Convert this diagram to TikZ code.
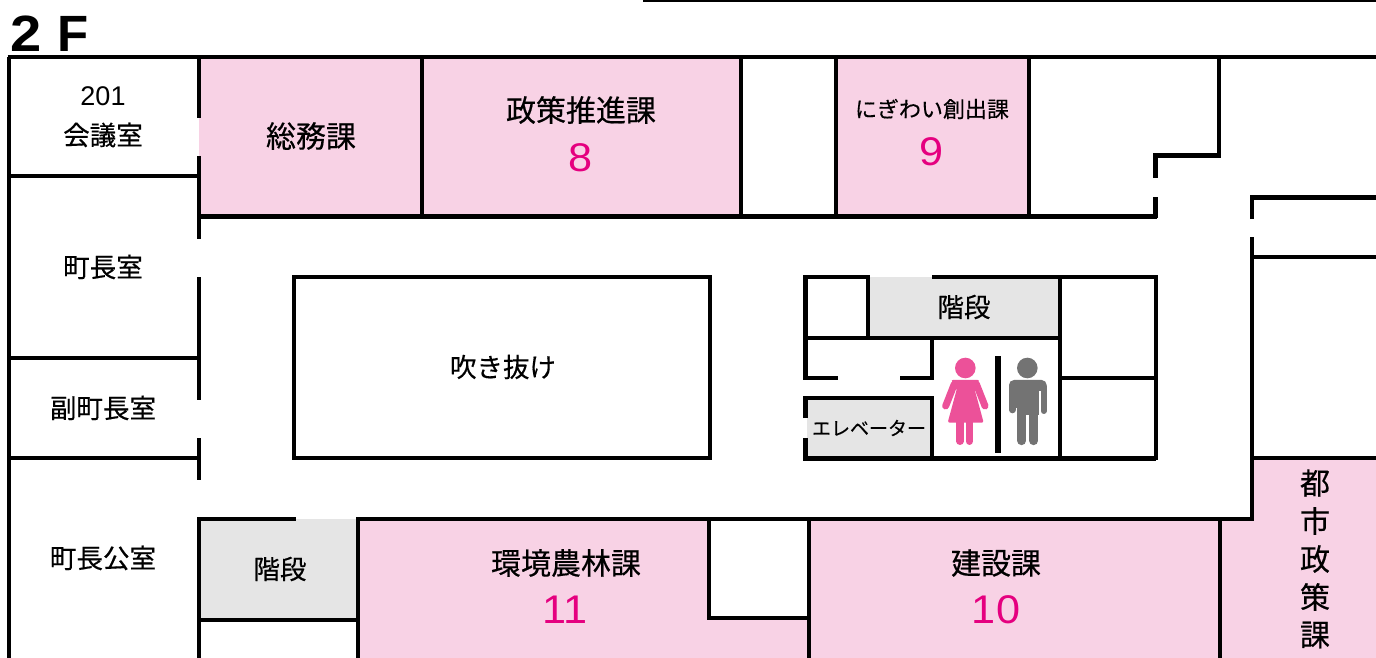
\documentclass[tikz,border=0pt]{standalone}
\usepackage{fontspec}
\setmainfont{Noto Sans CJK JP}[FakeBold=0.4]
\newfontfamily\latinfont{Liberation Sans}
\tikzset{
  wall/.style={line width=4.3pt,draw=black,line cap=butt,line join=miter},
  thinwall/.style={line width=3.5pt,draw=black,line cap=butt,line join=miter},
  label/.style={inner sep=0pt,text=black,align=center},
  num/.style={inner sep=0pt,text=numpink,xscale=1.08,font=\latinfont\fontsize{40}{40}\selectfont},
  t26/.style={label,font=\fontsize{26.5}{30}\selectfont},
  t29/.style={label,font=\fontsize{30}{34}\selectfont},
  ttl/.style={inner sep=0pt,anchor=base west,font=\latinfont\fontsize{51}{51}\selectfont\bfseries},
}
\definecolor{roompink}{HTML}{F8D2E5}
\definecolor{stairgray}{HTML}{E5E5E5}
\definecolor{numpink}{HTML}{E5007F}
\definecolor{womanpink}{HTML}{EC5199}
\definecolor{mangray}{HTML}{737373}
\begin{document}
\begin{tikzpicture}[x=1pt,y=-1pt]
\useasboundingbox (0,0) rectangle (1376,658);
\fill[white] (0,0) rectangle (1376,658);
% room fills
\fill[roompink] (199,57) rectangle (741,216);
\fill[roompink] (836,57) rectangle (1029,216);
\fill[roompink] (358,519) rectangle (1252,658);
\fill[white] (709,519) rectangle (809,618);
\fill[roompink] (1220,519) rectangle (1376,658);
\fill[roompink] (1252,458) rectangle (1376,519);
\fill[stairgray] (199,519) rectangle (358,620);
\fill[stairgray] (868,277) rectangle (1060,338);
\fill[stairgray] (807,398) rectangle (932,458);
% outer walls
\draw[line width=2.6pt] (643,1) -- (1376,1);
\draw[thinwall] (7.5,57) -- (1376,57);
\draw[thinwall] (9,57) -- (9,658);
\draw[wall] (199,57) -- (199,118) (199,156) -- (199,239) (199,277) -- (199,400) (199,438) -- (199,480);
\draw[wall] (9,176) -- (199,176) (9,358) -- (199,358) (9,458) -- (199,458);
\draw[wall] (197,216.5) -- (1157,216.5);
\draw[wall] (422,57) -- (422,216) (741,57) -- (741,216) (836,57) -- (836,216) (1029,57) -- (1029,216);
\draw[wall] (1219,57) -- (1219,155.5) -- (1155.5,155.5) -- (1155.5,178);
\draw[wall] (1155.5,197) -- (1155.5,218);
\draw[wall] (1252,219) -- (1252,197.5) -- (1376,197.5);
\draw[wall] (1252,237) -- (1252,519);
\draw[wall] (1252,257) -- (1376,257);
\draw[wall] (1252,458) -- (1376,458);
% lower walls
\draw[wall] (199,658) -- (199,519) -- (296,519);
\draw[wall] (358,519) -- (1254,519);
\draw[wall] (199,620) -- (358,620);
\draw[wall] (358,517) -- (358,658);
\draw[wall] (709,519) -- (709,618) -- (811,618);
\draw[wall] (809,519) -- (809,658);
\draw[wall] (1220,519) -- (1220,658);
% atrium
\draw[wall] (294,277) rectangle (710,458);
% core
\draw[wall] (870,277) -- (805.5,277) -- (805.5,378) -- (838,378);
\draw[wall] (932,277) -- (1156,277) -- (1156,460);
\draw[wall] (868,277) -- (868,338);
\draw[wall] (805,338) -- (1060,338);
\draw[wall] (900,378) -- (932,378) -- (932,338);
\draw[wall] (805.5,418) -- (805.5,398) -- (932,398) -- (932,458);
\draw[wall] (805.5,438) -- (805.5,458.5) -- (1156,458.5);
\draw[wall] (1060,277) -- (1060,460);
\draw[wall] (1060,378) -- (1156,378);
\draw[line width=5.5pt] (998,356) -- (998,453);
% pictograms
\begin{scope}[shift={(935,350)},x=0.3333pt,y=-0.3333pt]
% woman
\fill[womanpink] (91,54) circle (10.3pt);
\fill[womanpink,rounded corners=2pt] (48,90) -- (134,90) -- (118,115) -- (146,218) -- (38,218) -- (66,115) -- cycle;
\draw[womanpink,line width=7pt,line cap=round] (58,102) -- (32,168);
\draw[womanpink,line width=7pt,line cap=round] (124,102) -- (150,168);
\draw[womanpink,line width=7.3pt,line cap=round] (75,218) -- (75,274);
\draw[womanpink,line width=7.3pt,line cap=round] (103,218) -- (103,274);
% man
\fill[mangray] (277,54) circle (10.3pt);
\fill[mangray,rounded corners=5pt] (222,90) rectangle (335,140);
\fill[mangray] (245,120) rectangle (312,195);
\fill[mangray] (222,120) rectangle (245,175);
\draw[mangray,line width=6.6pt,line cap=round] (232,120) -- (232,180);
\draw[mangray,line width=6pt,line cap=round] (326,110) -- (326,183);
\fill[white] (312,122) rectangle (317,195);
\draw[mangray,line width=9pt,line cap=round] (260,190) -- (260,272);
\draw[mangray,line width=9pt,line cap=round] (296,190) -- (296,272);
\end{scope}
% labels
\node[ttl,xscale=1.1] (ttlb) at (10.5,51.5) {2};
\node[ttl] (ttlc) at (57,51.5) {F};
\node[label,font=\latinfont\fontsize{27}{30}\selectfont] (n201) at (103,96) {201};
\node[t26] (kaigi) at (103,135) {会議室};
\node[t26] (chocho) at (103,267) {町長室};
\node[t26] (fuku) at (103,408) {副町長室};
\node[t26] (kocho) at (103,558) {町長公室};
\node[t29] (somu) at (311,136) {総務課};
\node[t29] (seisaku) at (581,110) {政策推進課};
\node[num] (n8) at (581,158) {8};
\node[label,font=\fontsize{22}{26}\selectfont] (nigi) at (932,109) {にぎわい創出課};
\node[num] (n9) at (932,152) {9};
\node[t26] (fuki) at (503,367) {吹き抜け};
\node[t26] (kai1) at (964,307) {階段};
\node[label,font=\fontsize{19}{22}\selectfont] (ev) at (869,428) {エレベーター};
\node[t26] (kai2) at (280,569) {階段};
\node[t29] (kankyo) at (566,563) {環境農林課};
\node[num] (n11) at (565,610) {11};
\node[t29] (kensetsu) at (996,563) {建設課};
\node[num] (n10) at (996,610) {10};
\node[t29] (to) at (1315,483) {都};
\node[t29] (shi) at (1315,521) {市};
\node[t29] (sei) at (1315,559) {政};
\node[t29] (saku) at (1315,597) {策};
\node[t29] (ka) at (1315,635) {課};
\end{tikzpicture}
\end{document}
